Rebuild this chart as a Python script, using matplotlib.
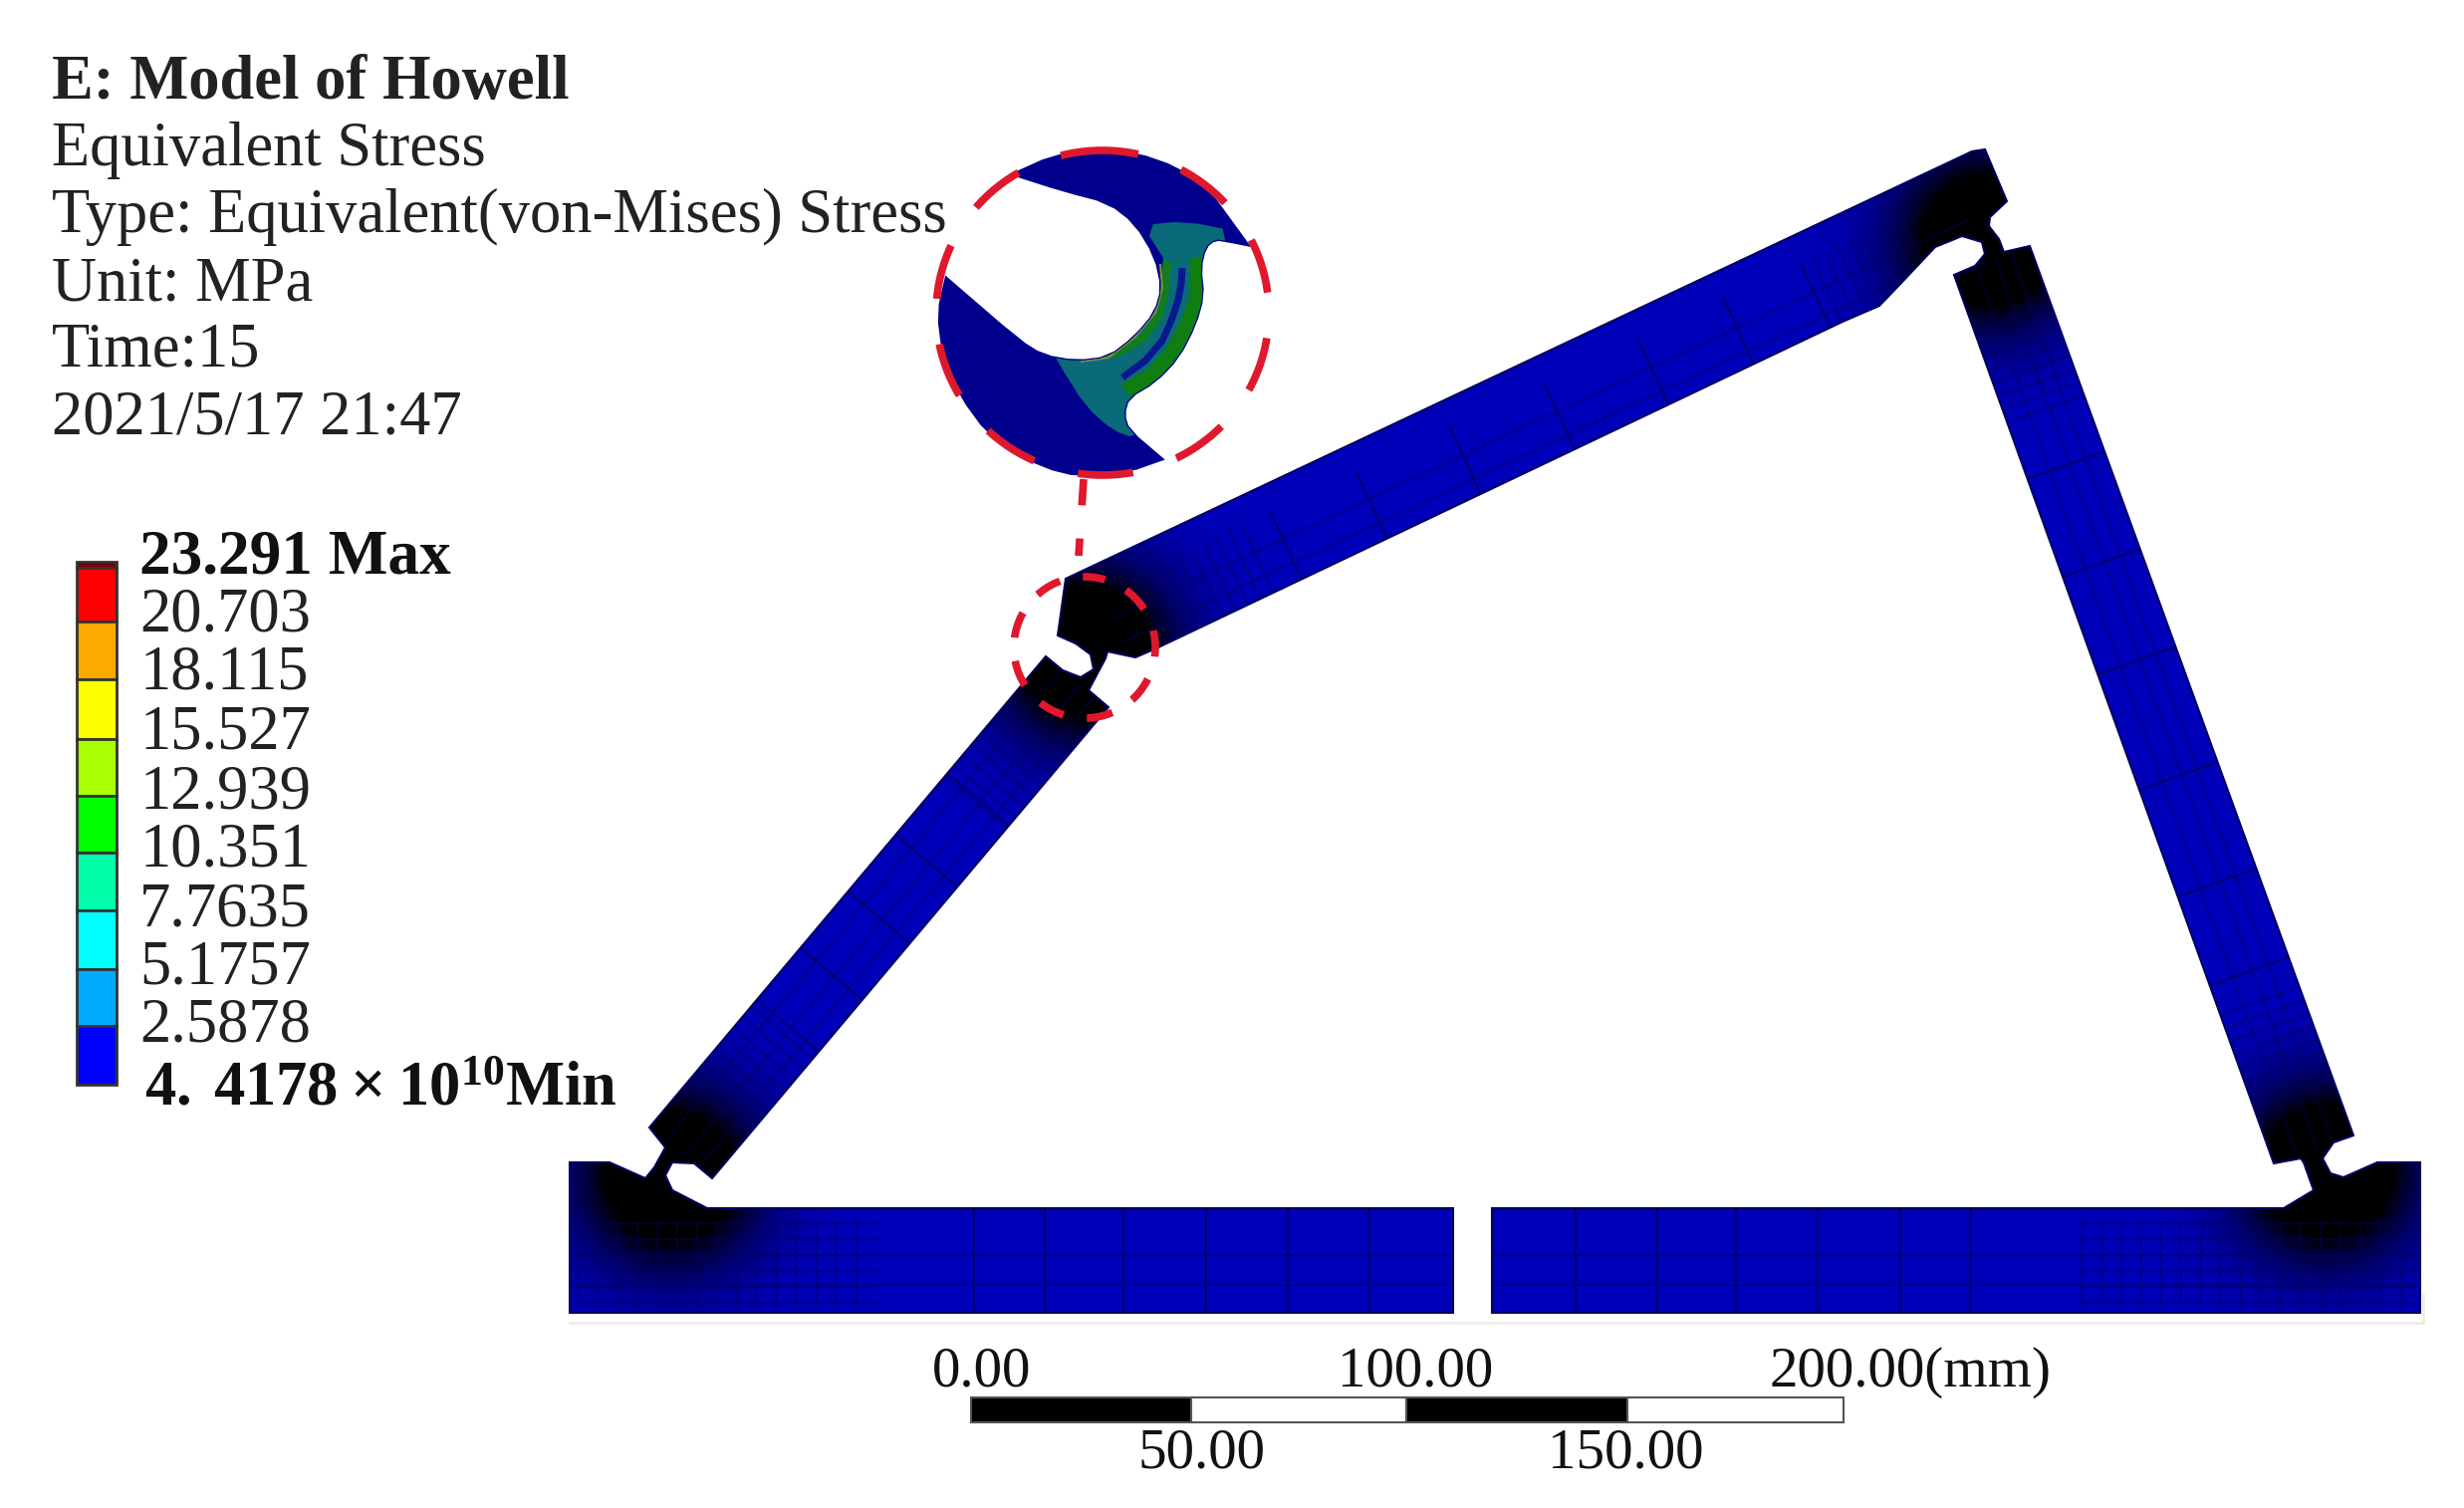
"""
Static stress plot of the Howell model: FE mesh body, zoom inset, legend and scale bar.
Everything is placed in picture pixels on one full-figure axes.
"""

import matplotlib
matplotlib.use('Agg')
import matplotlib.pyplot as plt
import numpy as np
from matplotlib.patches import Ellipse, PathPatch, Polygon, Rectangle
from matplotlib.path import Path

WIDTH = 2474
HEIGHT = 1514

# header text
TITLE = 'E: Model of Howell'
INFO_LINES = ['Equivalent Stress', 'Type: Equivalent(von-Mises) Stress', 'Unit: MPa', 'Time:15', '2021/5/17 21:47']
INFO_Y = [151, 218, 286, 353, 420]

# legend
LEGEND_EDGES = [564, 570, 624, 682, 742, 799, 856, 914, 973, 1030, 1089]
LEGEND_COLORS = ['#7a0000', '#ff0000', '#ffaa00', '#ffff00', '#aaff00', '#00ff00', '#00ffaa', '#00ffff', '#00aaff', '#0000ff']
LEGEND_LABELS = ['20.703', '18.115', '15.527', '12.939', '10.351', '7.7635', '5.1757', '2.5878']
LEGEND_LABEL_Y = [618, 677, 737, 796, 855, 915, 972, 1031]

# scale bar
BAR_EDGES = [975, 1196, 1412, 1634, 1851]
BAR_COLORS = ['black', 'white', 'black', 'white']
BAR_TOP_LABELS = [('0.00', 986), ('100.00', 1421), ('200.00(mm)', 1918)]
BAR_LOW_LABELS = [('50.00', 1207), ('150.00', 1632)]

# outline of the deformed mechanism
BODY_X = [1459, 572, 572, 612, 648, 657, 668, 652, 1050, 1067, 1085, 1098, 1095, 1080, 1062, 1070, 1980, 1993, 2015,
          1998, 1997, 2007, 2012, 2038, 2363, 2343, 2332, 2340, 2353, 2387, 2430, 2430, 1498, 1498, 2293, 2323, 2313,
          2310, 2283, 1962, 1983, 1993, 1990, 1970, 1943, 1910, 1887, 1850, 1163, 1140, 1112, 1110, 1093, 1113, 715,
          697, 675, 668, 675, 710, 1459, 1459]
BODY_Y = [1318, 1318, 1167, 1167, 1183, 1172, 1152, 1132, 659, 673, 680, 672, 657, 646, 638, 581, 152, 150, 202,
          218, 227, 240, 253, 247, 1140, 1147, 1163, 1178, 1182, 1167, 1167, 1318, 1318, 1213, 1213, 1195, 1167,
          1163, 1168, 276, 267, 255, 243, 237, 248, 283, 307, 323, 650, 660, 654, 661, 693, 710, 1183,
          1168, 1167, 1180, 1195, 1213, 1213, 1318]

# flexure hinges, the mesh is so fine around them that they print black
HINGE_X = [672, 1090, 1995, 2335]
HINGE_Y = [1180, 655, 240, 1175]

# coarse mesh lines
BASE_LINES_X = [978, 1049, 1128, 1211, 1293, 1375, 1582, 1664, 1743, 1825, 1908, 1979]
BASE_LINES_Y = [1260, 1290]
# fine mesh blocks at the two ends of the base: x range, y range
FINE_BLOCKS = [((580, 880), (1228, 1312)), ((2090, 2425), (1228, 1312))]
# link: start of the centre line, end of the centre line, half width
LINKS = [((683, 1157), (1081, 684), 48), ((1125, 640), (1985, 240), 52), ((2322, 1154), (2000, 262), 42)]
LINK_CUTS = [[0.27, 0.38, 0.5, 0.62, 0.75],
             [0.2, 0.3, 0.41, 0.52, 0.63, 0.73, 0.82],
             [0.2, 0.3, 0.42, 0.55, 0.66, 0.77]]

# inset, tips are listed twice so they stay pointed
INSET_X = [1017, 1017, 1057, 1100, 1140, 1183, 1213, 1240, 1253, 1253, 1233, 1220, 1210, 1205, 1208, 1200, 1183, 1160,
           1133, 1128, 1133, 1167, 1167, 1133, 1100, 1067, 1027, 993, 963, 947, 942, 950, 950, 1023, 1047, 1080, 1113,
           1140, 1160, 1167, 1160, 1140, 1113, 1067]
INSET_Y = [175, 175, 157, 150, 154, 169, 191, 228, 246, 246, 242, 240, 248, 269, 297, 326, 359, 383,
           399, 416, 432, 461, 461, 473, 477, 475, 459, 436, 395, 354, 314, 279, 279, 342, 357, 363, 359,
           338, 314, 289, 257, 224, 203, 191]
TEAL_X = [1147, 1190, 1240, 1230, 1140, 1117, 1090, 1063, 1050, 1140, 1175]
TEAL_Y = [226, 222, 232, 400, 440, 432, 408, 365, 340, 320, 270]
OUTER_BAND_X = [1203, 1202, 1194, 1178, 1156, 1130]
OUTER_BAND_Y = [258, 297, 322, 353, 377, 392]
INNER_BAND_X = [1172, 1170, 1163, 1147, 1122, 1095]
INNER_BAND_Y = [262, 291, 318, 340, 354, 358]
EDGE_BAND_X = [1165, 1167, 1160, 1140, 1113, 1085]
EDGE_BAND_Y = [265, 289, 314, 338, 359, 363]
MID_BLUE_X = [1187, 1186, 1183, 1176, 1167, 1150, 1127]
MID_BLUE_Y = [269, 285, 301, 322, 342, 362, 379]

RED = '#e0182d'
BODY_BLUE = np.array([0, 0, 185]) / 255.0


def chaikin(xs, ys, rounds=1):
    """
    Round a closed outline by corner cutting
    """
    pts = np.column_stack([xs, ys]).astype(float)
    for _ in range(rounds):
        nxt = np.roll(pts, -1, axis=0)
        pts = np.column_stack([0.75 * pts + 0.25 * nxt, 0.25 * pts + 0.75 * nxt]).reshape(-1, 2)
    return pts


def draw_body(ax):
    outline = np.column_stack([BODY_X[:-1] + [BODY_X[0]], BODY_Y[:-1] + [BODY_Y[0]]])
    clip = PathPatch(Path(outline, closed=True), transform=ax.transData, fc='none', ec='#000060', lw=1.5, zorder=2.5)
    ax.add_patch(clip)

    # darkening towards the hinges
    yy, xx = np.mgrid[0:HEIGHT:2, 0:WIDTH:2]
    dark = np.zeros_like(xx, dtype=float)
    for hx, hy in zip(HINGE_X, HINGE_Y):
        dist = np.hypot(xx - hx, yy - hy)
        dark = np.maximum(dark, 1.8 * np.exp(-(dist / 85.0) ** 2))
    dark = np.clip(dark, 0, 1)
    rgb = BODY_BLUE[None, None, :] * (1 - dark[..., None])
    img = ax.imshow(rgb, extent=(0, WIDTH, HEIGHT, 0), interpolation='bilinear', zorder=2, aspect='auto')
    img.set_clip_path(clip)

    # coarse mesh
    mesh = dict(color='#00005c', lw=1.6, alpha=0.75, zorder=3)
    fine = dict(color='#000060', lw=1.3, alpha=0.5, zorder=3)
    lines = []
    for x in BASE_LINES_X:
        lines.append(ax.plot([x, x], [1213, 1318], **mesh)[0])
    for y in BASE_LINES_Y:
        lines.append(ax.plot([572, 2430], [y, y], **fine)[0])
    for (x_range, y_range) in FINE_BLOCKS:
        for x in range(x_range[0], x_range[1], 20):
            lines.append(ax.plot([x, x], y_range, **fine)[0])
        for y in range(y_range[0], y_range[1], 16):
            lines.append(ax.plot(x_range, [y, y], **fine)[0])
    for (start, end, half), cuts in zip(LINKS, LINK_CUTS):
        start, end = np.array(start, float), np.array(end, float)
        length = np.hypot(*(end - start))
        along = (end - start) / length
        normal = np.array([-along[1], along[0]])
        for t in cuts:
            mid = start + t * (end - start)
            a, b = mid - half * normal, mid + half * normal
            lines.append(ax.plot([a[0], b[0]], [a[1], b[1]], **mesh)[0])
        # finer cells towards the hinges
        for dist in range(60, 170, 14):
            for mid in (start + dist * along, end - dist * along):
                a, b = mid - half * normal, mid + half * normal
                lines.append(ax.plot([a[0], b[0]], [a[1], b[1]], **fine)[0])
        for off in (-0.4, 0.1, 0.5):
            a, b = start + off * half * normal, end + off * half * normal
            lines.append(ax.plot([a[0], b[0]], [a[1], b[1]], **fine)[0])
    for line in lines:
        line.set_clip_path(clip)

    # faint frame left from the screenshot
    ax.plot([572, 2433, 2433], [1328, 1328, 1300], color='#eeeee6', lw=2, zorder=1)


def draw_inset(ax):
    outline = chaikin(INSET_X, INSET_Y)
    clip = Polygon(outline, closed=True, fc='#00008c', ec='#00008c', lw=2, zorder=2)
    ax.add_patch(clip)
    teal = Polygon(chaikin(TEAL_X, TEAL_Y), closed=True, fc='#0a6a78', ec='none', zorder=3)
    ax.add_patch(teal)
    teal.set_clip_path(clip)
    bands = [(OUTER_BAND_X, OUTER_BAND_Y, '#0f7d0f', 11), (INNER_BAND_X, INNER_BAND_Y, '#0f7d20', 6),
             (EDGE_BAND_X, EDGE_BAND_Y, '#8a8a40', 1.5), (MID_BLUE_X, MID_BLUE_Y, '#0a1890', 5)]
    for xs, ys, color, lw in bands:
        line, = ax.plot(xs, ys, color=color, lw=lw, zorder=4, solid_capstyle='butt', solid_joinstyle='round')
        line.set_clip_path(clip)


def draw_callouts(ax):
    dash = dict(fc='none', ec=RED, lw=5.5, zorder=6)
    ax.add_patch(Ellipse((1107, 314), 334, 326, ls=(14, (40, 33)), **dash))
    ax.add_patch(Ellipse((1089, 650), 142, 142, ls=(4, (19, 17)), **dash))
    ax.plot([1088, 1083], [481, 558], color=RED, lw=5.5, ls=(0, (19, 24)), zorder=6)


def draw_legend(ax):
    for i, color in enumerate(LEGEND_COLORS):
        ax.add_patch(Rectangle((77, LEGEND_EDGES[i]), 40, LEGEND_EDGES[i + 1] - LEGEND_EDGES[i],
                               fc=color, ec='#333333', lw=2, zorder=3))
    ax.text(140, 561, '23.291 Max', fontsize=45.5, fontweight='bold', va='center', color='#111111')
    for label, y in zip(LEGEND_LABELS, LEGEND_LABEL_Y):
        ax.text(140, y, label, fontsize=45, va='center', color='#222222')
    ax.text(145, 1094, r'$\mathbf{4.\,4178\times10^{10}Min}$', fontsize=45, va='center', color='#111111')


def draw_scale_bar(ax):
    for i, color in enumerate(BAR_COLORS):
        ax.add_patch(Rectangle((BAR_EDGES[i], 1403), BAR_EDGES[i + 1] - BAR_EDGES[i], 25,
                               fc=color, ec='#555555', lw=1.5, zorder=3))
    for label, x in BAR_TOP_LABELS:
        ax.text(x, 1378, label, fontsize=41, ha='center', va='center', color='#111111')
    for label, x in BAR_LOW_LABELS:
        ax.text(x, 1460, label, fontsize=41, ha='center', va='center', color='#111111')


def main():
    plt.rcParams['font.family'] = ['Liberation Serif', 'DejaVu Serif']
    plt.rcParams['mathtext.fontset'] = 'custom'
    plt.rcParams['mathtext.rm'] = 'Liberation Serif'
    plt.rcParams['mathtext.bf'] = 'Liberation Serif:bold'
    plt.rcParams['lines.scale_dashes'] = False

    fig = plt.figure(figsize=(WIDTH / 100, HEIGHT / 100), dpi=100)
    ax = fig.add_axes([0, 0, 1, 1])
    ax.set_xlim(0, WIDTH)
    ax.set_ylim(HEIGHT, 0)
    ax.axis('off')

    draw_body(ax)
    ax.set_xlim(0, WIDTH)
    ax.set_ylim(HEIGHT, 0)
    draw_inset(ax)
    draw_callouts(ax)

    ax.text(52, 84, TITLE, fontsize=45, fontweight='bold', va='center', color='#222222')
    for line, y in zip(INFO_LINES, INFO_Y):
        ax.text(52, y, line, fontsize=45, va='center', color='#222222', zorder=7)

    draw_legend(ax)
    draw_scale_bar(ax)

    fig.savefig('out.png', dpi=100)


if __name__ == "__main__":
    main()
